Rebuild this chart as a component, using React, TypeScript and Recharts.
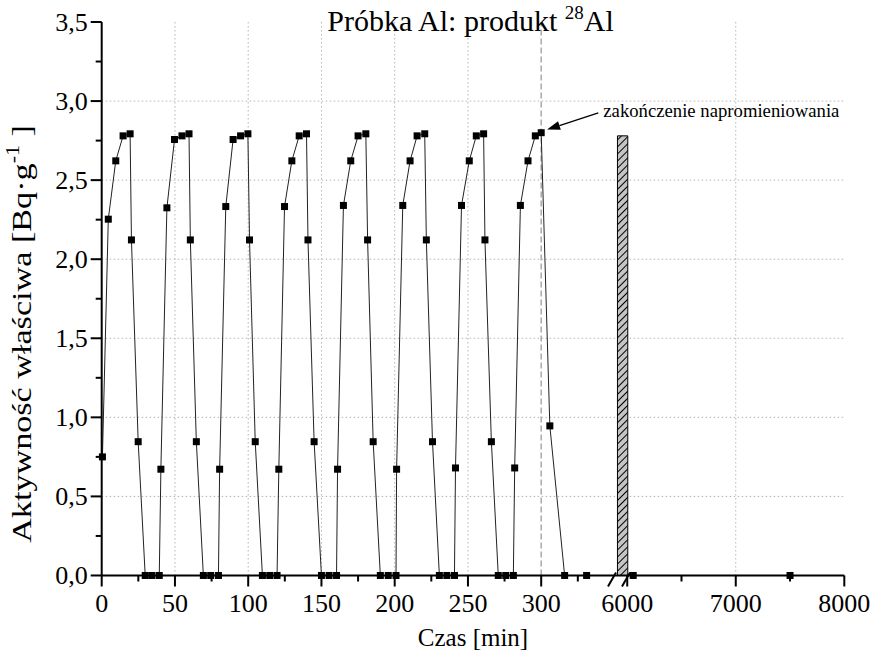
import {
  LineChart,
  Line,
  XAxis,
  YAxis,
  CartesianGrid,
  ReferenceLine,
  ReferenceArea,
  ReferenceDot,
} from 'recharts'

// Próbka Al, produkt 28Al – osiem cykli naświetlania po 40 min
const nearTime = [
  0.5, 4.5, 9.6, 14.6, 19.4, 20.3, 24.9, 29.7, 34.3, 39.3,
  40.4, 44.5, 49.7, 54.8, 59.6, 60.5, 64.6, 69.4, 74.4, 79.7,
  80.5, 84.7, 89.7, 94.8, 99.8, 100.9, 104.8, 109.7, 114.7, 119.7,
  120.9, 124.8, 129.8, 134.8, 139.8, 140.8, 145, 150, 155.2, 160.3,
  161, 165, 170, 175, 180.3, 181.5, 185.3, 190.2, 195.6, 200.9,
  201.3, 205.5, 210.5, 215.3, 220.5, 221.6, 225.8, 230.5, 235.6, 240.8,
  241.5, 245.6, 250.9, 255.7, 260.7, 261.6, 266, 270.7, 275.8, 281,
  281.9, 285.8, 291, 296, 300, 305.9, 316, 331,
]
const nearActivity = [
  0.75, 2.253, 2.622, 2.78, 2.793, 2.122, 0.846, 0, 0, 0,
  0.672, 2.325, 2.757, 2.78, 2.793, 2.122, 0.846, 0, 0, 0,
  0.672, 2.333, 2.757, 2.78, 2.793, 2.122, 0.846, 0, 0, 0,
  0.672, 2.333, 2.622, 2.78, 2.793, 2.122, 0.846, 0, 0, 0,
  0.672, 2.34, 2.622, 2.78, 2.793, 2.122, 0.846, 0, 0, 0,
  0.672, 2.34, 2.622, 2.78, 2.793, 2.122, 0.846, 0, 0, 0,
  0.68, 2.34, 2.622, 2.78, 2.793, 2.122, 0.846, 0, 0, 0,
  0.68, 2.34, 2.622, 2.78, 2.8, 0.946, 0, 0,
]

// pomiary po przerwie w osi czasu
const farTime = [6055, 7500]
const farActivity = [0, 0]

const nearTicks = [0, 25, 50, 75, 100, 125, 150, 175, 200, 225, 250, 275, 300, 325]
const farTicks = [6000, 6500, 7000, 7500, 8000]
const yTicks = [0, 0.25, 0.5, 0.75, 1, 1.25, 1.5, 1.75, 2, 2.25, 2.5, 2.75, 3, 3.25, 3.5]
const gridY = [0.5, 1, 1.5, 2, 2.5, 3]
const gridNearX = [50, 100, 150, 200, 250]
const gridFarX = [7000]

const endOfIrradiation = 300
const gapBarTime = [5910, 6005]
const gapBarActivity = 2.78
const axisBreakAt = 5924

const nearData = nearTime.map((t, i) => ({ t, a: nearActivity[i] }))
const farData = farTime.map((t, i) => ({ t, a: farActivity[i] }))

const FONT = '"Liberation Serif", "Times New Roman", serif'
const GRID = '#b4b4b4'

function SquareDot(props: any) {
  const { cx, cy } = props
  if (cx == null || cy == null) return null
  return <rect x={cx - 3.5} y={cy - 3.5} width={7} height={7} fill="#000" />
}

function XTick(props: any) {
  const { x, y, payload, step } = props
  const major = payload.value % step === 0
  return (
    <g>
      <line x1={x} x2={x} y1={y} y2={y + (major ? 11 : 6)} stroke="#000" strokeWidth={2} />
      {major && (
        <text x={x} y={y + 37} textAnchor="middle" fontSize={26} fontFamily={FONT} fill="#000">
          {payload.value}
        </text>
      )}
    </g>
  )
}

function YTick(props: any) {
  const { x, y, payload } = props
  const major = Math.abs(payload.value * 2 - Math.round(payload.value * 2)) < 1e-6
  return (
    <g>
      <line x1={x} x2={x - (major ? 11 : 6)} y1={y} y2={y} stroke="#000" strokeWidth={2} />
      {major && (
        <text x={x - 14} y={y + 9} textAnchor="end" fontSize={26} fontFamily={FONT} fill="#000">
          {payload.value.toFixed(1).replace('.', ',')}
        </text>
      )}
    </g>
  )
}

function AxisBreak(props: any) {
  const { cx, cy } = props
  return (
    <g stroke="#000" strokeWidth={2}>
      <line x1={cx - 11} y1={cy + 11} x2={cx - 3} y2={cy - 3} />
      <line x1={cx + 3} y1={cy + 11} x2={cx + 11} y2={cy - 3} />
    </g>
  )
}

function Arrow(props: any) {
  const { x1, y1, x2, y2 } = props
  const ang = Math.atan2(y2 - y1, x2 - x1)
  const len = 13
  const w = 4.5
  const bx = x2 - len * Math.cos(ang)
  const by = y2 - len * Math.sin(ang)
  const px = -Math.sin(ang) * w
  const py = Math.cos(ang) * w
  return (
    <g>
      <line x1={x1} y1={y1} x2={bx} y2={by} stroke="#000" strokeWidth={1.3} />
      <polygon points={`${x2},${y2} ${bx + px},${by + py} ${bx - px},${by - py}`} fill="#000" />
      <text x={x1 + 5} y={y1 + 4} fontSize={18.7} fontFamily={FONT} fill="#000">
        zakończenie napromieniowania
      </text>
    </g>
  )
}

export default function App() {
  return (
    <div style={{ position: 'absolute', left: 0, top: 0, width: 870, height: 657, background: '#fff' }}>
      <LineChart
        width={870}
        height={657}
        margin={{ top: 22, right: 25.7, bottom: 81.5, left: 0 }}
      >
        <defs>
          <pattern id="hatch" patternUnits="userSpaceOnUse" width={5} height={5} patternTransform="rotate(45)">
            <rect width={5} height={5} fill="#c4c4c4" />
            <line x1={0} y1={0} x2={0} y2={5} stroke="#000" strokeWidth={2} />
          </pattern>
        </defs>
        <CartesianGrid
          xAxisId="near"
          stroke={GRID}
          strokeDasharray="1.5 2.5"
          horizontalValues={gridY}
          verticalValues={gridNearX}
        />
        {gridFarX.map((v) => (
          <ReferenceLine key={v} xAxisId="far" x={v} stroke={GRID} strokeDasharray="1.5 2.5" />
        ))}
        <ReferenceLine
          xAxisId="near"
          x={endOfIrradiation}
          stroke="#aaa"
          strokeWidth={1.5}
          strokeDasharray="6 3"
        />
        <ReferenceArea
          xAxisId="far"
          x1={gapBarTime[0]}
          x2={gapBarTime[1]}
          y1={0}
          y2={gapBarActivity}
          fill="url(#hatch)"
          fillOpacity={1}
          stroke="#000"
          strokeWidth={1}
        />
        {/* both time axes sit on the same baseline, so each reserves almost no height */}
        <XAxis
          xAxisId="near"
          dataKey="t"
          type="number"
          domain={[0, 506.9]}
          ticks={nearTicks}
          interval={0}
          height={0.01}
          tickSize={0}
          tickMargin={0}
          tickLine={false}
          axisLine={{ stroke: '#000', strokeWidth: 2 }}
          tick={<XTick step={50} />}
        />
        <XAxis
          xAxisId="far"
          dataKey="t"
          type="number"
          domain={[1158, 8000]}
          ticks={farTicks}
          interval={0}
          height={0.01}
          tickSize={0}
          tickMargin={0}
          tickLine={false}
          axisLine={false}
          tick={<XTick step={1000} />}
        />
        <YAxis
          type="number"
          domain={[0, 3.5]}
          ticks={yTicks}
          interval={0}
          width={101.7}
          tickSize={0}
          tickMargin={0}
          tickLine={false}
          axisLine={{ stroke: '#000', strokeWidth: 2 }}
          tick={<YTick />}
        />
        <ReferenceDot xAxisId="far" x={axisBreakAt} y={0} shape={<AxisBreak />} />
        <ReferenceLine
          xAxisId="near"
          segment={[
            { x: 339, y: 2.925 },
            { x: 304, y: 2.82 },
          ]}
          shape={<Arrow />}
        />
        <Line
          xAxisId="near"
          data={nearData}
          dataKey="a"
          stroke="#222"
          strokeWidth={1}
          dot={<SquareDot />}
          activeDot={false}
          isAnimationActive={false}
        />
        <Line
          xAxisId="far"
          data={farData}
          dataKey="a"
          stroke="#222"
          strokeWidth={1}
          dot={<SquareDot />}
          activeDot={false}
          isAnimationActive={false}
        />
      </LineChart>
      <div
        style={{
          position: 'absolute',
          left: 0,
          width: 941,
          top: 6,
          lineHeight: '30px',
          textAlign: 'center',
          fontFamily: FONT,
          fontSize: 30,
          color: '#000',
          whiteSpace: 'nowrap',
        }}
      >
        Próbka Al: produkt{' '}
        <span style={{ fontSize: 19, position: 'relative', top: -12 }}>28</span>Al
      </div>
      <div
        style={{
          position: 'absolute',
          left: 373,
          width: 200,
          top: 623,
          lineHeight: '30px',
          textAlign: 'center',
          fontFamily: FONT,
          fontSize: 25,
          color: '#000',
        }}
      >
        Czas [min]
      </div>
      <div
        style={{
          position: 'absolute',
          left: 23,
          top: 334,
          lineHeight: '30px',
          transform: 'translate(-50%, -50%) rotate(-90deg) scaleX(1.22)',
          fontFamily: FONT,
          fontSize: 28,
          color: '#000',
          whiteSpace: 'nowrap',
        }}
      >
        Aktywność właściwa [Bq·g
        <span style={{ fontSize: 18, position: 'relative', top: -12 }}>-1</span> ]
      </div>
    </div>
  )
}
